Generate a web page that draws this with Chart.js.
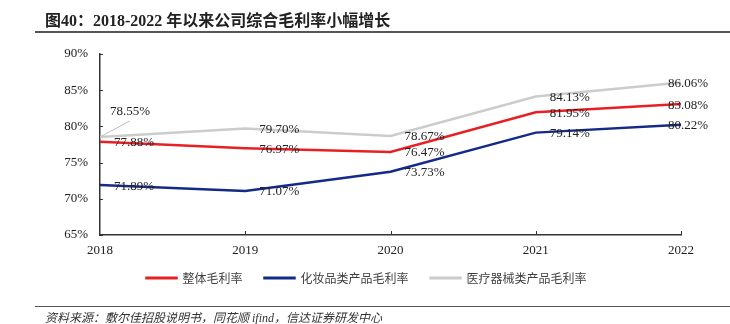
<!DOCTYPE html>
<html>
<head>
<meta charset="utf-8">
<script src="https://cdn.jsdelivr.net/npm/chart.js@4.4.0/dist/chart.umd.min.js"></script>
<style>
  html, body { margin: 0; padding: 0; background: #fff; }
  #wrap { position: relative; width: 730px; height: 324px; overflow: hidden; }
  #title { position: absolute; left: 45px; top: 7px; font: bold 16px "Liberation Serif", "Noto Sans CJK SC"; color: #222; white-space: nowrap; }
  #topLine { position: absolute; left: 35px; right: 0; top: 31px; height: 2px; background: #555; }
  #bottomLine { position: absolute; left: 35px; right: 0; top: 306px; height: 1px; background: #555; }
  #source { position: absolute; left: 45px; top: 308px; font: italic 12px "Liberation Serif", "Noto Sans CJK SC"; color: #333; white-space: nowrap; }
  canvas { position: absolute; left: 0; top: 0; }
</style>
</head>
<body>
<div id="wrap">
  <canvas id="myChart" width="730" height="324"></canvas>
  <div id="title">图40：2018-2022 年以来公司综合毛利率小幅增长</div>
  <div id="topLine"></div>
  <div id="bottomLine"></div>
  <div id="source">资料来源：敷尔佳招股说明书，同花顺 ifind，信达证券研发中心</div>
</div>
<script>
"use strict";

// 数据
const years = ["2018", "2019", "2020", "2021", "2022"];
const overall = [77.88, 76.97, 76.47, 81.95, 83.08];
const cosmetics = [71.89, 71.07, 73.73, 79.14, 80.22];
const medical = [78.55, 79.70, 78.67, 84.13, 86.06];
const yTicks = [65, 70, 75, 80, 85, 90];

const seriesNames = ["整体毛利率", "化妆品类产品毛利率", "医疗器械类产品毛利率"];
const colors = ["rgb(232, 32, 36)", "rgb(20, 42, 135)", "rgb(204, 204, 204)"];

const axisColor = "#333";

// 图例上移一点，靠近横轴
const legendShift = {
  id: "legendShift",
  afterLayout(chart) {
    if (chart.legend) chart.legend.top = chart.chartArea.bottom + 15;
  }
};

// 数值标签 + 内向刻度
const labelPlugin = {
  id: "valueLabels",
  afterDraw(chart) {
    const ctx = chart.ctx;
    const xs = chart.scales.x, ys = chart.scales.y;
    ctx.save();
    ctx.strokeStyle = axisColor;
    ctx.lineWidth = 1;
    yTicks.forEach(v => {
      const y = Math.round(ys.getPixelForValue(v)) + 0.5;
      ctx.beginPath();
      ctx.moveTo(xs.left, y);
      ctx.lineTo(xs.left + 3, y);
      ctx.stroke();
    });
    years.forEach((c, i) => {
      if (i === 0) return;
      const x = Math.round(xs.getPixelForValue(i)) + 0.5;
      ctx.beginPath();
      ctx.moveTo(x, ys.bottom);
      ctx.lineTo(x, ys.bottom - 4);
      ctx.stroke();
    });

    ctx.font = '13px "Liberation Serif"';
    ctx.fillStyle = "#222";
    ctx.textBaseline = "middle";
    ctx.textAlign = "left";
    chart.data.datasets.forEach((ds, i) => {
      const meta = chart.getDatasetMeta(i);
      meta.data.forEach((pt, j) => {
        const txt = ds.data[j].toFixed(2) + "%";
        let x = pt.x + 14, y = pt.y + 1;
        if (j === meta.data.length - 1) x = pt.x - 13;
        if (i === 2 && j === 0) {
          // 引导线
          ctx.strokeStyle = "#bbb";
          ctx.beginPath();
          ctx.moveTo(pt.x, pt.y);
          ctx.lineTo(pt.x + 30, pt.y - 16);
          ctx.stroke();
          x = pt.x + 10;
          y = pt.y - 25;
        }
        ctx.fillText(txt, x, y);
      });
    });
    ctx.restore();
  }
};

const data = {
  labels: years,
  datasets: [
    { label: seriesNames[0], data: overall, borderColor: colors[0], backgroundColor: colors[0] },
    { label: seriesNames[1], data: cosmetics, borderColor: colors[1], backgroundColor: colors[1] },
    { label: seriesNames[2], data: medical, borderColor: colors[2], backgroundColor: colors[2] },
  ].map(d => Object.assign(d, { borderWidth: 2.5, pointRadius: 0, tension: 0, fill: false })),
};

const config = {
  type: "line",
  data,
  options: {
    responsive: false,
    animation: false,
    layout: { padding: { top: 54, right: 49, left: 52, bottom: 19 } },
    plugins: {
      legend: {
        position: "bottom",
        labels: {
          boxWidth: 30,
          boxHeight: 0.5,
          padding: 22,
          color: "#404040",
          font: { family: '"Noto Sans CJK SC"', size: 12 },
        },
      },
      tooltip: { enabled: false },
    },
    scales: {
      x: {
        offset: false,
        grid: { drawOnChartArea: false, drawTicks: false },
        border: { display: true, color: axisColor, width: 1.5 },
        ticks: { color: "#222", padding: 8, font: { family: '"Liberation Serif"', size: 13 }, maxRotation: 0 },
        afterFit(scale) { scale.height = 26; },
      },
      y: {
        min: 65,
        max: 90,
        grid: { drawOnChartArea: false, drawTicks: false },
        border: { display: true, color: axisColor, width: 1.5 },
        ticks: {
          stepSize: 5,
          color: "#222",
          padding: 12,
          font: { family: '"Liberation Serif"', size: 13 },
          callback: v => v + "%",
        },
        afterFit(scale) { scale.width = 48; },
      },
    },
  },
  plugins: [legendShift, labelPlugin],
};

const myChart = new Chart(document.querySelector("#myChart"), config);
</script>
</body>
</html>
